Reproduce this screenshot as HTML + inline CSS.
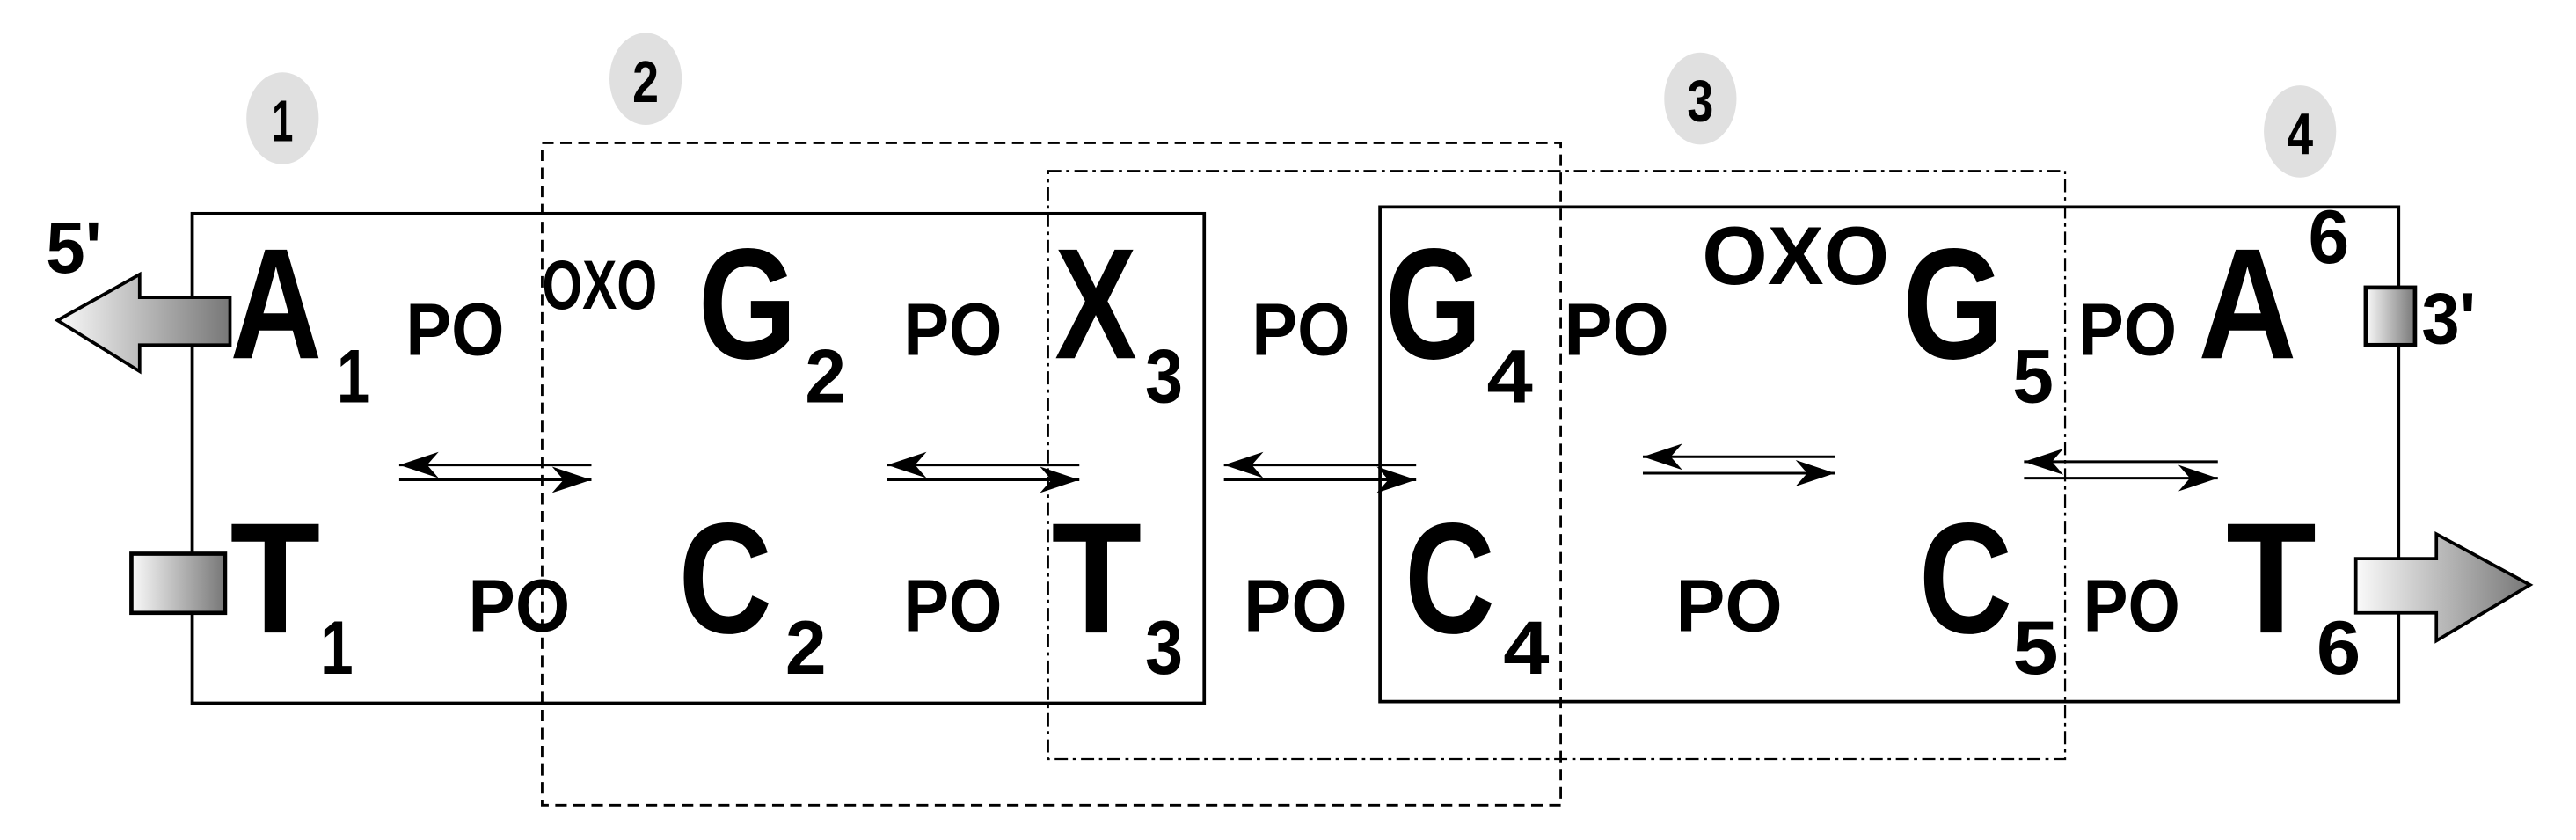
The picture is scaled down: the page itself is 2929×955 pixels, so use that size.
<!DOCTYPE html>
<html><head><meta charset="utf-8"><style>
html,body{margin:0;padding:0;background:#fff}
svg{display:block}
text{font-family:"Liberation Sans",Arial,sans-serif;font-weight:bold;fill:#000}
</style></head><body>
<svg width="2929" height="955" viewBox="0 0 1568 511.25" preserveAspectRatio="none" xmlns="http://www.w3.org/2000/svg">
<defs>
<linearGradient id="g" x1="0" x2="1" y1="0" y2="0"><stop offset="0" stop-color="#fafafa"/><stop offset="1" stop-color="#777"/></linearGradient>
<marker id="ah" viewBox="0 0 24 16" refX="24" refY="8" markerWidth="24" markerHeight="16" markerUnits="userSpaceOnUse" orient="auto"><path d="M0,0 L24,8 L0,16 L7,8 Z" fill="#000"/></marker>
</defs>
<g fill="#e0e0e0">
<ellipse cx="172" cy="72" rx="22" ry="28"/><ellipse cx="393" cy="48" rx="22" ry="28"/>
<ellipse cx="1035" cy="60" rx="22" ry="28"/><ellipse cx="1400" cy="80" rx="22" ry="28"/>
</g>
<text x="172" y="86" font-size="36" text-anchor="middle" textLength="13" lengthAdjust="spacingAndGlyphs">1</text>
<text x="393" y="62" font-size="36" text-anchor="middle" textLength="16" lengthAdjust="spacingAndGlyphs">2</text>
<text x="1035" y="74" font-size="36" text-anchor="middle" textLength="16" lengthAdjust="spacingAndGlyphs">3</text>
<text x="1400" y="94" font-size="36" text-anchor="middle" textLength="16" lengthAdjust="spacingAndGlyphs">4</text>
<g fill="none" stroke="#000">
<rect x="117" y="130" width="616" height="298" stroke-width="2"/>
<rect x="840" y="126" width="620" height="301" stroke-width="2"/>
<rect x="330" y="87" width="620" height="403" stroke-width="1.5" stroke-dasharray="7,4"/>
<rect x="638" y="104" width="619" height="358" stroke-width="1.2" stroke-dasharray="8,3,2,3"/>
</g>
<path d="M140,181 L85,181 L85,167 L35,195 L85,226 L85,210 L140,210 Z" fill="url(#g)" stroke="#000" stroke-width="2"/>
<rect x="80" y="337" width="57" height="36" fill="url(#g)" stroke="#000" stroke-width="2.5"/>
<rect x="1440" y="175" width="30" height="35" fill="url(#g)" stroke="#000" stroke-width="2.5"/>
<path d="M1434,340 L1483,340 L1483,325 L1540,356 L1483,390 L1483,373 L1434,373 Z" fill="url(#g)" stroke="#000" stroke-width="2"/>
<text x="28" y="166" font-size="44" textLength="34" lengthAdjust="spacingAndGlyphs">5'</text>
<text x="1474" y="209" font-size="44" textLength="33" lengthAdjust="spacingAndGlyphs">3'</text>
<g stroke="#000" stroke-width="1.6">
<line x1="360" y1="283" x2="243" y2="283" marker-end="url(#ah)"/><line x1="243" y1="292" x2="360" y2="292" marker-end="url(#ah)"/>
<line x1="657" y1="283" x2="540" y2="283" marker-end="url(#ah)"/><line x1="540" y1="292" x2="657" y2="292" marker-end="url(#ah)"/>
<line x1="862" y1="283" x2="745" y2="283" marker-end="url(#ah)"/><line x1="745" y1="292" x2="862" y2="292" marker-end="url(#ah)"/>
<line x1="1117" y1="278" x2="1000" y2="278" marker-end="url(#ah)"/><line x1="1000" y1="288" x2="1117" y2="288" marker-end="url(#ah)"/>
<line x1="1350" y1="281" x2="1232" y2="281" marker-end="url(#ah)"/><line x1="1232" y1="291" x2="1350" y2="291" marker-end="url(#ah)"/>
</g>
<g font-size="96">
<text x="140" y="218" textLength="56" lengthAdjust="spacingAndGlyphs">A</text>
<text x="425" y="218" textLength="60" lengthAdjust="spacingAndGlyphs">G</text>
<text x="642" y="218" textLength="50" lengthAdjust="spacingAndGlyphs">X</text>
<text x="843" y="218" textLength="59" lengthAdjust="spacingAndGlyphs">G</text>
<text x="1158" y="218" textLength="62" lengthAdjust="spacingAndGlyphs">G</text>
<text x="1338" y="218" textLength="60" lengthAdjust="spacingAndGlyphs">A</text>
<text x="140" y="385" textLength="55" lengthAdjust="spacingAndGlyphs">T</text>
<text x="413" y="385" textLength="57" lengthAdjust="spacingAndGlyphs">C</text>
<text x="640" y="385" textLength="55" lengthAdjust="spacingAndGlyphs">T</text>
<text x="855" y="385" textLength="55" lengthAdjust="spacingAndGlyphs">C</text>
<text x="1168" y="385" textLength="57" lengthAdjust="spacingAndGlyphs">C</text>
<text x="1355" y="385" textLength="55" lengthAdjust="spacingAndGlyphs">T</text>
</g>
<g font-size="46">
<text x="205" y="245" textLength="20" lengthAdjust="spacingAndGlyphs">1</text>
<text x="490" y="245" textLength="25" lengthAdjust="spacingAndGlyphs">2</text>
<text x="697" y="245" textLength="23" lengthAdjust="spacingAndGlyphs">3</text>
<text x="905" y="245" textLength="28" lengthAdjust="spacingAndGlyphs">4</text>
<text x="1225" y="245" textLength="25" lengthAdjust="spacingAndGlyphs">5</text>
<text x="1405" y="160" textLength="25" lengthAdjust="spacingAndGlyphs">6</text>
<text x="195" y="410" textLength="20" lengthAdjust="spacingAndGlyphs">1</text>
<text x="478" y="410" textLength="25" lengthAdjust="spacingAndGlyphs">2</text>
<text x="697" y="410" textLength="23" lengthAdjust="spacingAndGlyphs">3</text>
<text x="915" y="410" textLength="28" lengthAdjust="spacingAndGlyphs">4</text>
<text x="1225" y="410" textLength="28" lengthAdjust="spacingAndGlyphs">5</text>
<text x="1410" y="410" textLength="27" lengthAdjust="spacingAndGlyphs">6</text>
</g>
<g font-size="45">
<text x="247" y="216" textLength="60" lengthAdjust="spacingAndGlyphs">PO</text>
<text x="550" y="216" textLength="60" lengthAdjust="spacingAndGlyphs">PO</text>
<text x="762" y="216" textLength="60" lengthAdjust="spacingAndGlyphs">PO</text>
<text x="952" y="216" textLength="64" lengthAdjust="spacingAndGlyphs">PO</text>
<text x="1265" y="216" textLength="60" lengthAdjust="spacingAndGlyphs">PO</text>
<text x="285" y="384" textLength="62" lengthAdjust="spacingAndGlyphs">PO</text>
<text x="550" y="384" textLength="60" lengthAdjust="spacingAndGlyphs">PO</text>
<text x="757" y="384" textLength="63" lengthAdjust="spacingAndGlyphs">PO</text>
<text x="1020" y="384" textLength="65" lengthAdjust="spacingAndGlyphs">PO</text>
<text x="1268" y="384" textLength="59" lengthAdjust="spacingAndGlyphs">PO</text>
<text x="330" y="188" font-size="42" textLength="70" lengthAdjust="spacingAndGlyphs">OXO</text>
</g>
<text x="1036" y="173" font-size="50" textLength="114" lengthAdjust="spacingAndGlyphs">OXO</text>
</svg>
</body></html>
